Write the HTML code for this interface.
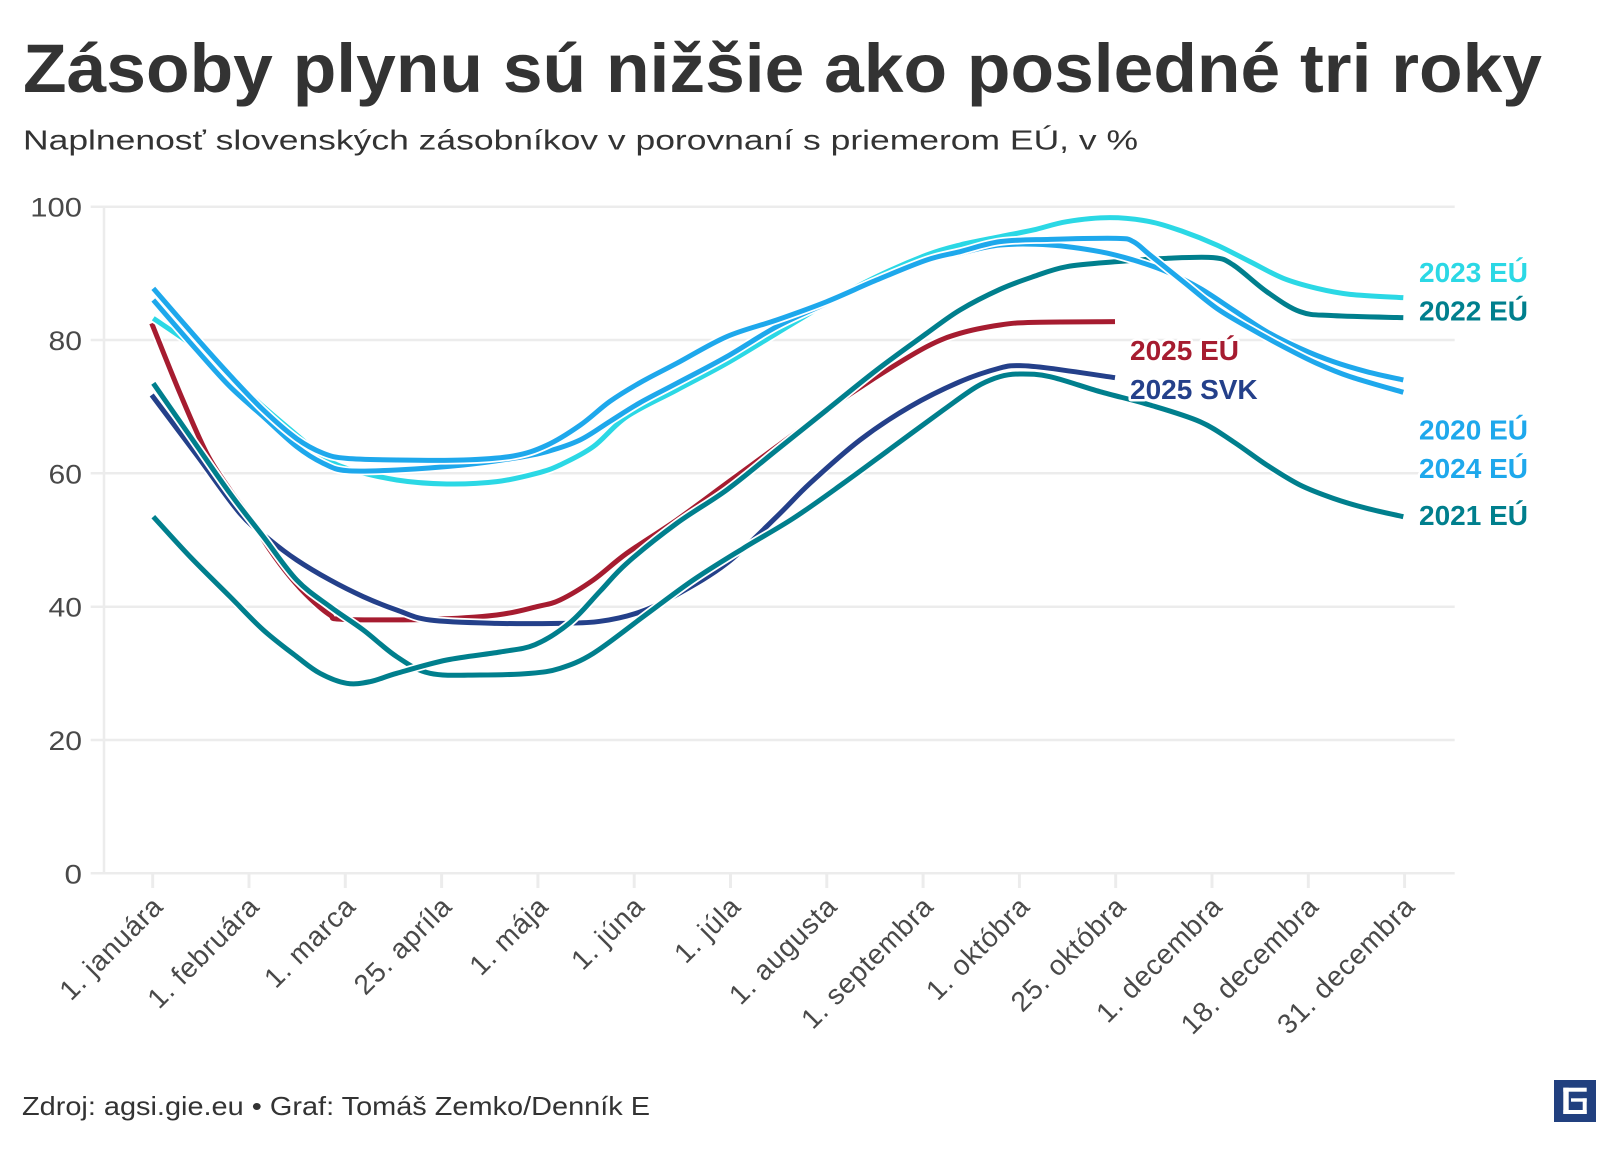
<!DOCTYPE html>
<html><head><meta charset="utf-8"><style>
html,body{margin:0;padding:0;background:#fff;}
svg{display:block;}
.t{font-family:"Liberation Sans",Arial,sans-serif;}
</style></head><body>
<svg id="ch" width="1616" height="1150" viewBox="0 0 1616 1150" xmlns="http://www.w3.org/2000/svg">
<rect width="1616" height="1150" fill="#fff"/>
<text class="t" x="23" y="92" font-size="69" font-weight="bold" fill="#333" textLength="1519" lengthAdjust="spacingAndGlyphs">Zásoby plynu sú nižšie ako posledné tri roky</text>
<text class="t" x="23" y="149.5" font-size="28" fill="#333" textLength="1115" lengthAdjust="spacingAndGlyphs">Naplnenosť slovenských zásobníkov v porovnaní s priemerom EÚ, v %</text>

<g stroke="#ececec" stroke-width="2.5">
<line x1="90.7" y1="206.7" x2="1454.7" y2="206.7"/>
<line x1="90.7" y1="340" x2="1454.7" y2="340"/>
<line x1="90.7" y1="473.3" x2="1454.7" y2="473.3"/>
<line x1="90.7" y1="606.7" x2="1454.7" y2="606.7"/>
<line x1="90.7" y1="740" x2="1454.7" y2="740"/>
<line x1="90.7" y1="873.3" x2="1454.7" y2="873.3"/>
<line x1="104" y1="205.5" x2="104" y2="874.5"/>
</g>
<g stroke="#ececec" stroke-width="3">
<line x1="152.7" y1="874" x2="152.7" y2="888"/>
<line x1="249" y1="874" x2="249" y2="888"/>
<line x1="345.3" y1="874" x2="345.3" y2="888"/>
<line x1="441.6" y1="874" x2="441.6" y2="888"/>
<line x1="537.9" y1="874" x2="537.9" y2="888"/>
<line x1="634.2" y1="874" x2="634.2" y2="888"/>
<line x1="730.5" y1="874" x2="730.5" y2="888"/>
<line x1="826.8" y1="874" x2="826.8" y2="888"/>
<line x1="923.1" y1="874" x2="923.1" y2="888"/>
<line x1="1019.4" y1="874" x2="1019.4" y2="888"/>
<line x1="1115.7" y1="874" x2="1115.7" y2="888"/>
<line x1="1212" y1="874" x2="1212" y2="888"/>
<line x1="1308.3" y1="874" x2="1308.3" y2="888"/>
<line x1="1404.6" y1="874" x2="1404.6" y2="888"/>
</g>

<g class="t" font-size="27" fill="#494949" text-anchor="end">
<text x="82" y="216.7" textLength="51.7" lengthAdjust="spacingAndGlyphs">100</text>
<text x="82" y="350" textLength="33.5" lengthAdjust="spacingAndGlyphs">80</text>
<text x="82" y="483.3" textLength="33.5" lengthAdjust="spacingAndGlyphs">60</text>
<text x="82" y="616.7" textLength="33.5" lengthAdjust="spacingAndGlyphs">40</text>
<text x="82" y="750" textLength="33.5" lengthAdjust="spacingAndGlyphs">20</text>
<text x="82" y="883.3" textLength="17.5" lengthAdjust="spacingAndGlyphs">0</text>
</g>

<g class="t" font-size="28" fill="#494949" text-anchor="end" letter-spacing="0.8">
<text transform="translate(164.7,908) rotate(-45)">1. januára</text>
<text transform="translate(261,908) rotate(-45)">1. februára</text>
<text transform="translate(357.3,908) rotate(-45)">1. marca</text>
<text transform="translate(453.6,908) rotate(-45)">25. apríla</text>
<text transform="translate(549.9,908) rotate(-45)">1. mája</text>
<text transform="translate(646.2,908) rotate(-45)">1. júna</text>
<text transform="translate(742.5,908) rotate(-45)">1. júla</text>
<text transform="translate(838.8,908) rotate(-45)">1. augusta</text>
<text transform="translate(935.1,908) rotate(-45)">1. septembra</text>
<text transform="translate(1031.4,908) rotate(-45)">1. októbra</text>
<text transform="translate(1127.7,908) rotate(-45)">25. októbra</text>
<text transform="translate(1224,908) rotate(-45)">1. decembra</text>
<text transform="translate(1320.3,908) rotate(-45)">18. decembra</text>
<text transform="translate(1416.6,908) rotate(-45)">31. decembra</text>
</g>

<g transform="matrix(1,0,0,-6.6667,0,873.33)" fill="none" stroke-linejoin="round" stroke-linecap="butt">
<polyline class="s" vector-effect="non-scaling-stroke" stroke="#fff" stroke-width="8.5" points="151.7,82.5 180,72 206.7,63 230,57.5 246.7,54 270,48.5 290,44.5 310,41.25 330,38.75 343.3,38.1 430,38.1 496.7,38.75 536.7,40 560,41 593.3,44 626.7,48 676.7,53 726.7,58.5 776.7,64 826.7,69.5 876.7,74.5 926.7,79 960,81 1000,82.25 1033.3,82.65 1115,82.75"/>
<polyline class="s" vector-effect="non-scaling-stroke" stroke="#a61c30" stroke-width="5" points="151.7,82.5 180,72 206.7,63 230,57.5 246.7,54 270,48.5 290,44.5 310,41.25 330,38.75 343.3,38.1 430,38.1 496.7,38.75 536.7,40 560,41 593.3,44 626.7,48 676.7,53 726.7,58.5 776.7,64 826.7,69.5 876.7,74.5 926.7,79 960,81 1000,82.25 1033.3,82.65 1115,82.75"/>
<polyline class="s" vector-effect="non-scaling-stroke" stroke="#fff" stroke-width="8.5" points="151.7,71.75 196.7,62.75 240,54 270,50 296.7,47 330,44 363.3,41.5 396.7,39.5 430,38 496.7,37.5 560,37.5 600,37.8 640,39.2 676.7,41.8 726.7,46.5 776.7,53.5 810,58.5 860,65 910,70 960,73.75 1000,75.8 1020,76.15 1050,75.75 1115,74.35"/>
<polyline class="s" vector-effect="non-scaling-stroke" stroke="#24408a" stroke-width="5" points="151.7,71.75 196.7,62.75 240,54 270,50 296.7,47 330,44 363.3,41.5 396.7,39.5 430,38 496.7,37.5 560,37.5 600,37.8 640,39.2 676.7,41.8 726.7,46.5 776.7,53.5 810,58.5 860,65 910,70 960,73.75 1000,75.8 1020,76.15 1050,75.75 1115,74.35"/>
<polyline class="s" vector-effect="non-scaling-stroke" stroke="#fff" stroke-width="8.5" points="153.3,73.5 190,65.6 230,57 263.3,50.5 296.7,44 330,40 363.3,36.5 396.7,32.5 430,30 480,29.75 530,30 560,30.75 593.3,33 643.3,38.5 693.3,44 743.3,48.75 793.3,53.25 843.3,58.5 893.3,64 943.3,69.5 976.7,73 1000,74.5 1020,74.9 1050,74.5 1100,72.25 1150,70.25 1200,67.75 1233.3,64.75 1266.7,61.25 1300,58.25 1333.3,56.25 1366.7,54.75 1403.3,53.5"/>
<polyline class="s" vector-effect="non-scaling-stroke" stroke="#007f8d" stroke-width="5" points="153.3,73.5 190,65.6 230,57 263.3,50.5 296.7,44 330,40 363.3,36.5 396.7,32.5 430,30 480,29.75 530,30 560,30.75 593.3,33 643.3,38.5 693.3,44 743.3,48.75 793.3,53.25 843.3,58.5 893.3,64 943.3,69.5 976.7,73 1000,74.5 1020,74.9 1050,74.5 1100,72.25 1150,70.25 1200,67.75 1233.3,64.75 1266.7,61.25 1300,58.25 1333.3,56.25 1366.7,54.75 1403.3,53.5"/>
<polyline class="s" vector-effect="non-scaling-stroke" stroke="#fff" stroke-width="8.5" points="153.3,53.5 190,47.5 230,41.5 263.3,36.5 296.7,32.5 320,30 346.7,28.5 370,28.75 396.7,30 446.7,32 500,33.2 535,34.3 570,37.6 600,42.3 626.7,46.5 676.7,52.5 726.7,57.5 776.7,63.5 826.7,69.5 876.7,75.5 926.7,81 960,84.5 1000,87.6 1033.3,89.5 1066.7,91 1116.7,91.75 1166.7,92.25 1213.3,92.35 1233.3,91.25 1266.7,87.25 1300,84.25 1333.3,83.65 1403.3,83.35"/>
<polyline class="s" vector-effect="non-scaling-stroke" stroke="#007f8d" stroke-width="5" points="153.3,53.5 190,47.5 230,41.5 263.3,36.5 296.7,32.5 320,30 346.7,28.5 370,28.75 396.7,30 446.7,32 500,33.2 535,34.3 570,37.6 600,42.3 626.7,46.5 676.7,52.5 726.7,57.5 776.7,63.5 826.7,69.5 876.7,75.5 926.7,81 960,84.5 1000,87.6 1033.3,89.5 1066.7,91 1116.7,91.75 1166.7,92.25 1213.3,92.35 1233.3,91.25 1266.7,87.25 1300,84.25 1333.3,83.65 1403.3,83.35"/>
<polyline class="s" vector-effect="non-scaling-stroke" stroke="#fff" stroke-width="8.5" points="153.3,83.25 196.7,78.75 230,74.5 263.3,70 296.7,65.75 323.3,62.5 346.7,60.75 396.7,59 446.7,58.4 496.7,58.75 536.7,60 560,61.25 593.3,64 626.7,68.5 676.7,72.5 726.7,76.5 776.7,81 826.7,85.5 876.7,89.5 926.7,92.75 960,94.25 1000,95.5 1033.3,96.5 1066.7,97.75 1110,98.35 1150,97.75 1183.3,96.25 1216.7,94.25 1250,91.75 1283.3,89.25 1316.7,87.75 1350,86.85 1403.3,86.35"/>
<polyline class="s" vector-effect="non-scaling-stroke" stroke="#2bd8e5" stroke-width="5" points="153.3,83.25 196.7,78.75 230,74.5 263.3,70 296.7,65.75 323.3,62.5 346.7,60.75 396.7,59 446.7,58.4 496.7,58.75 536.7,60 560,61.25 593.3,64 626.7,68.5 676.7,72.5 726.7,76.5 776.7,81 826.7,85.5 876.7,89.5 926.7,92.75 960,94.25 1000,95.5 1033.3,96.5 1066.7,97.75 1110,98.35 1150,97.75 1183.3,96.25 1216.7,94.25 1250,91.75 1283.3,89.25 1316.7,87.75 1350,86.85 1403.3,86.35"/>
<polyline class="s" vector-effect="non-scaling-stroke" stroke="#fff" stroke-width="8.5" points="153.3,86 196.7,78.5 230,73 263.3,68.5 296.7,64 323.3,61.5 346.7,60.4 396.7,60.5 463.3,61.25 513.3,62.25 546.7,63.25 580,65 610,67.8 640,70.6 676.7,73.5 726.7,77.5 776.7,82 826.7,85.5 876.7,88.8 926.7,91.8 960,93 1000,94.25 1050,94.25 1100,93.25 1133.3,92 1166.7,90.25 1200,87.75 1233.3,84.5 1266.7,81.25 1300,78.75 1333.3,76.75 1366.7,75.25 1403.3,74"/>
<polyline class="s" vector-effect="non-scaling-stroke" stroke="#1ea8ec" stroke-width="5" points="153.3,86 196.7,78.5 230,73 263.3,68.5 296.7,64 323.3,61.5 346.7,60.4 396.7,60.5 463.3,61.25 513.3,62.25 546.7,63.25 580,65 610,67.8 640,70.6 676.7,73.5 726.7,77.5 776.7,82 826.7,85.5 876.7,88.8 926.7,91.8 960,93 1000,94.25 1050,94.25 1100,93.25 1133.3,92 1166.7,90.25 1200,87.75 1233.3,84.5 1266.7,81.25 1300,78.75 1333.3,76.75 1366.7,75.25 1403.3,74"/>
<polyline class="s" vector-effect="non-scaling-stroke" stroke="#fff" stroke-width="8.5" points="153.3,87.75 196.7,80.25 230,74.7 263.3,69.5 296.7,65.2 323.3,63 346.7,62.25 396.7,62 463.3,62 513.3,62.6 546.7,64.2 580,67.2 610,70.8 640,73.6 676.7,76.5 726.7,80.5 776.7,83 826.7,85.75 876.7,89 926.7,92 960,93.25 1000,94.75 1050,95.1 1116.7,95.25 1133.3,94.75 1150,92.75 1183.3,88.75 1216.7,84.75 1250,81.75 1283.3,79 1316.7,76.5 1350,74.5 1403.3,72.15"/>
<polyline class="s" vector-effect="non-scaling-stroke" stroke="#1ea8ec" stroke-width="5" points="153.3,87.75 196.7,80.25 230,74.7 263.3,69.5 296.7,65.2 323.3,63 346.7,62.25 396.7,62 463.3,62 513.3,62.6 546.7,64.2 580,67.2 610,70.8 640,73.6 676.7,76.5 726.7,80.5 776.7,83 826.7,85.75 876.7,89 926.7,92 960,93.25 1000,94.75 1050,95.1 1116.7,95.25 1133.3,94.75 1150,92.75 1183.3,88.75 1216.7,84.75 1250,81.75 1283.3,79 1316.7,76.5 1350,74.5 1403.3,72.15"/>
</g>

<g class="t" font-size="28" font-weight="bold" stroke="#fff" stroke-width="5" paint-order="stroke" stroke-linejoin="round">
<text x="1130" y="360" fill="#a61c30">2025 EÚ</text>
<text x="1130" y="399" fill="#24408a">2025 SVK</text>
<text x="1419" y="282" fill="#2bd8e5">2023 EÚ</text>
<text x="1419" y="320.5" fill="#007f8d">2022 EÚ</text>
<text x="1419" y="439.5" fill="#1ea8ec">2020 EÚ</text>
<text x="1419" y="478" fill="#1ea8ec">2024 EÚ</text>
<text x="1419" y="525" fill="#007f8d">2021 EÚ</text>
</g>

<text class="t" x="22" y="1115" font-size="26" fill="#333" textLength="628" lengthAdjust="spacingAndGlyphs">Zdroj: agsi.gie.eu • Graf: Tomáš Zemko/Denník E</text>

<g>
<rect x="1554" y="1080" width="42" height="42" fill="#21407f"/>
<g fill="#fff">
<rect x="1563.3" y="1087.7" width="5.4" height="26.3"/>
<rect x="1563.3" y="1087.7" width="23.4" height="4"/>
<rect x="1563.3" y="1110" width="23.4" height="4"/>
<rect x="1571" y="1098.3" width="15.7" height="3.4"/>
<rect x="1582.7" y="1098.3" width="4" height="15.7"/>
</g>
</g>
</svg>
<script>
(function(){
  var NS="http://www.w3.org/2000/svg";
  var pls=document.querySelectorAll("polyline.s");
  for(var k=0;k<pls.length;k++){
    var pl=pls[k];
    var raw=pl.getAttribute("points").trim().split(/\s+/);
    var p=[];
    for(var i=0;i<raw.length;i++){var a=raw[i].split(",");p.push([+a[0],+a[1]]);}
    if(p.length<3)continue;
    var d="M"+p[0][0]+","+p[0][1];
    for(var i=0;i<p.length-1;i++){
      var p0=p[i-1]||p[i], p1=p[i], p2=p[i+1], p3=p[i+2]||p[i+1];
      var c1x=p1[0]+(p2[0]-p0[0])/6, c1y=p1[1]+(p2[1]-p0[1])/6;
      var c2x=p2[0]-(p3[0]-p1[0])/6, c2y=p2[1]-(p3[1]-p1[1])/6;
      d+=" C"+c1x.toFixed(2)+","+c1y.toFixed(3)+" "+c2x.toFixed(2)+","+c2y.toFixed(3)+" "+p2[0]+","+p2[1];
    }
    var path=document.createElementNS(NS,"path");
    path.setAttribute("d",d);
    var attrs=["stroke","stroke-width","vector-effect"];
    for(var j=0;j<attrs.length;j++){path.setAttribute(attrs[j],pl.getAttribute(attrs[j]));}
    path.setAttribute("fill","none");
    pl.parentNode.replaceChild(path,pl);
  }
})();
</script>
</body></html>
